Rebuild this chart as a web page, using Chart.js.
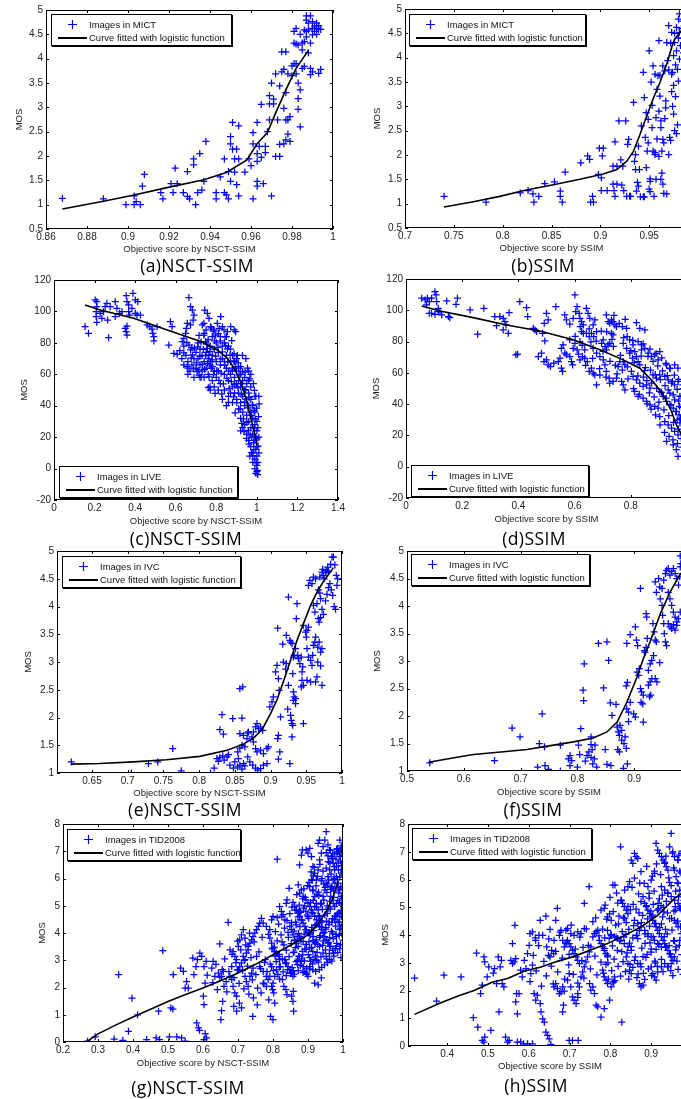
<!DOCTYPE html>
<html>
<head>
<meta charset="utf-8">
<script src="https://cdn.jsdelivr.net/npm/chart.js@4.4.1/dist/chart.umd.min.js"></script>
<style>
html,body{margin:0;padding:0;background:#fff;overflow:hidden;width:681px;height:1099px;}
canvas{position:absolute;}
.cap{position:absolute;width:220px;text-align:center;font-family:"Open Sans",sans-serif;font-size:17.5px;letter-spacing:0.4px;line-height:20px;color:#000;}
.lg{position:absolute;border:1px solid #000;box-shadow:1px 1px 0 #000;background:#fff;font-family:"Liberation Sans",Arial,sans-serif;font-size:9.5px;color:#111;}
.lg span{position:absolute;white-space:nowrap;line-height:12px;}
.lg svg{position:absolute;}
.lg .ln{position:absolute;height:1.5px;background:#000;}
</style>
</head>
<body>
<script>
// ---------------- data ----------------
const xTitleNsct = 'Objective score by NSCT-SSIM';
const xTitleSsim = 'Objective score by SSIM';
const yTitle = 'MOS';
const fitLabel = 'Curve fitted with logistic function';
const legendLabels = ['Images in MICT','Images in MICT','Images in LIVE','Images in LIVE','Images in IVC','Images in IVC','Images in TID2008','Images in TID2008'];
const captions = ['(a)NSCT-SSIM','(b)SSIM','(c)NSCT-SSIM','(d)SSIM','(e)NSCT-SSIM','(f)SSIM','(g)NSCT-SSIM','(h)SSIM'];

const xTicksA = [0.86,0.88,0.9,0.92,0.94,0.96,0.98,1];
const xLabelsA = ['0.86','0.88','0.9','0.92','0.94','0.96','0.98','1'];
const xTicksB = [0.7,0.75,0.8,0.85,0.9,0.95,1];
const xLabelsB = ['0.7','0.75','0.8','0.85','0.9','0.95','1'];
const xTicksC = [0,0.2,0.4,0.6,0.8,1,1.2,1.4];
const xLabelsC = ['0','0.2','0.4','0.6','0.8','1','1.2','1.4'];
const xTicksD = [0,0.2,0.4,0.6,0.8,1];
const xLabelsD = ['0','0.2','0.4','0.6','0.8','1'];
const xTicksE = [0.65,0.7,0.75,0.8,0.85,0.9,0.95,1];
const xLabelsE = ['0.65','0.7','0.75','0.8','0.85','0.9','0.95','1'];
const xTicksF = [0.5,0.6,0.7,0.8,0.9,1];
const xLabelsF = ['0.5','0.6','0.7','0.8','0.9','1'];
const xTicksG = [0.2,0.3,0.4,0.5,0.6,0.7,0.8,0.9,1];
const xLabelsG = ['0.2','0.3','0.4','0.5','0.6','0.7','0.8','0.9','1'];
const xTicksH = [0.4,0.5,0.6,0.7,0.8,0.9,1];
const xLabelsH = ['0.4','0.5','0.6','0.7','0.8','0.9','1'];
const yTicksMict = [0.5,1,1.5,2,2.5,3,3.5,4,4.5,5];
const yLabelsMict = ['0.5','1','1.5','2','2.5','3','3.5','4','4.5','5'];
const yTicksLive = [-20,0,20,40,60,80,100,120];
const yLabelsLive = ['-20','0','20','40','60','80','100','120'];
const yTicksIvc = [1,1.5,2,2.5,3,3.5,4,4.5,5];
const yLabelsIvc = ['1','1.5','2','2.5','3','3.5','4','4.5','5'];
const yTicksTid = [0,1,2,3,4,5,6,7,8];
const yLabelsTid = ['0','1','2','3','4','5','6','7','8'];

const micNsct = [[0.868,1.13],[0.888,1.12],[0.899,1.0],[0.903,1.18],[0.903,1.0],[0.904,1.06],[0.906,1.0],[0.907,1.38],[0.908,1.62],[0.916,1.25],[0.917,1.12],[0.921,1.43],[0.922,1.25],[0.923,1.75],[0.924,1.43],[0.927,1.25],[0.929,1.68],[0.929,1.17],[0.930,1.12],[0.932,1.82],[0.932,1.94],[0.935,2.05],[0.933,1.0],[0.934,1.25],[0.936,1.3],[0.938,2.3],[0.937,1.48],[0.943,1.25],[0.943,1.12],[0.945,1.57],[0.947,1.25],[0.948,1.2],[0.947,1.94],[0.949,1.12],[0.949,1.68],[0.950,1.48],[0.950,2.25],[0.950,2.4],[0.951,2.69],[0.951,2.14],[0.952,1.94],[0.952,1.67],[0.953,1.41],[0.953,2.14],[0.954,1.94],[0.954,2.62],[0.954,1.18],[0.957,1.67],[0.959,1.94],[0.960,1.8],[0.961,2.48],[0.961,1.12],[0.961,2.25],[0.963,2.69],[0.963,1.38],[0.963,2.05],[0.963,1.48],[0.963,1.89],[0.964,2.2],[0.965,3.06],[0.965,1.97],[0.966,1.43],[0.967,2.2],[0.967,2.07],[0.968,2.5],[0.969,2.74],[0.969,3.07],[0.969,3.24],[0.970,3.5],[0.970,1.18],[0.971,3.07],[0.971,3.17],[0.972,3.69],[0.972,1.99],[0.973,2.74],[0.974,1.99],[0.974,2.24],[0.974,3.44],[0.975,3.73],[0.976,3.78],[0.975,4.14],[0.976,2.25],[0.976,2.98],[0.977,4.14],[0.977,2.74],[0.977,3.3],[0.977,2.33],[0.978,3.69],[0.978,2.45],[0.978,2.74],[0.979,2.81],[0.979,2.3],[0.980,3.85],[0.980,3.65],[0.981,4.32],[0.981,4.56],[0.981,3.9],[0.982,3.69],[0.982,4.62],[0.982,4.3],[0.982,3.9],[0.983,2.96],[0.983,3.5],[0.983,3.18],[0.983,4.28],[0.984,4.5],[0.984,2.6],[0.984,3.36],[0.985,4.18],[0.985,4.32],[0.985,3.8],[0.986,4.59],[0.986,4.35],[0.986,3.84],[0.987,4.79],[0.987,4.56],[0.987,4.45],[0.987,4.88],[0.988,4.73],[0.988,4.12],[0.988,4.59],[0.989,4.32],[0.989,3.8],[0.989,3.67],[0.989,4.88],[0.990,4.76],[0.990,4.62],[0.990,4.49],[0.990,3.73],[0.991,4.67],[0.991,4.56],[0.992,4.62],[0.992,4.73],[0.993,4.6],[0.994,4.6],[0.993,3.7],[0.994,3.78],[0.992,4.5],[0.993,4.68]];
const micNsctFit = [[0.868,0.91],[0.888,1.07],[0.903,1.2],[0.919,1.35],[0.937,1.51],[0.948,1.66],[0.958,1.92],[0.963,2.25],[0.968,2.48],[0.972,2.88],[0.977,3.36],[0.982,3.8],[0.988,4.17]];

const micSsim = [[0.740,1.15],[0.783,1.03],[0.818,1.22],[0.826,1.27],[0.831,1.2],[0.832,1.03],[0.837,1.15],[0.843,1.41],[0.853,1.45],[0.859,1.26],[0.859,1.15],[0.861,1.03],[0.864,1.65],[0.880,1.84],[0.887,1.98],[0.889,1.91],[0.890,1.03],[0.892,1.15],[0.893,1.03],[0.898,1.6],[0.899,2.14],[0.901,1.53],[0.902,1.98],[0.903,2.14],[0.901,1.27],[0.907,1.27],[0.913,1.77],[0.913,1.4],[0.914,1.27],[0.915,1.15],[0.915,2.27],[0.917,1.77],[0.917,1.4],[0.919,2.7],[0.926,2.7],[0.921,1.9],[0.923,1.77],[0.927,1.15],[0.930,1.15],[0.931,1.15],[0.929,2.32],[0.928,2.22],[0.934,3.08],[0.935,1.87],[0.936,2.01],[0.936,1.7],[0.937,1.26],[0.938,1.44],[0.939,1.36],[0.939,2.18],[0.940,1.7],[0.942,2.6],[0.944,3.7],[0.945,3.18],[0.945,1.14],[0.946,2.36],[0.947,2.87],[0.948,2.08],[0.947,1.74],[0.949,2.73],[0.949,2.25],[0.950,4.14],[0.951,1.46],[0.951,1.51],[0.952,3.5],[0.953,3.02],[0.953,2.56],[0.954,3.83],[0.954,2.08],[0.956,3.66],[0.956,2.01],[0.957,2.77],[0.958,2.33],[0.958,3.35],[0.959,3.63],[0.960,4.35],[0.961,3.21],[0.961,3.64],[0.962,2.56],[0.963,2.08],[0.963,1.63],[0.964,2.32],[0.964,3.83],[0.965,1.21],[0.966,3.73],[0.967,3.11],[0.967,2.97],[0.968,4.31],[0.969,3.94],[0.970,2.01],[0.971,2.36],[0.973,3.66],[0.973,3.3],[0.975,2.84],[0.975,3.43],[0.976,2.5],[0.970,4.66],[0.973,4.52],[0.975,4.04],[0.976,4.31],[0.978,4.62],[0.978,4.14],[0.979,3.76],[0.980,4.79],[0.980,3.52],[0.981,4.52],[0.981,4.9],[0.981,3.97],[0.983,4.6],[0.984,4.4],[0.984,4.75],[0.985,4.1],[0.986,4.55],[0.957,1.5],[0.962,1.5],[0.964,1.4],[0.950,1.3],[0.951,1.25],[0.944,1.14],[0.941,1.14],[0.955,1.15],[0.968,1.2],[0.922,1.38],[0.924,1.27],[0.956,2.05],[0.960,1.97],[0.965,2.25],[0.972,2.3],[0.962,2.7],[0.966,2.75],[0.960,2.9],[0.974,3.0],[0.977,3.2],[0.979,2.62],[0.978,2.44],[0.977,3.85],[0.974,3.7],[0.970,3.75],[0.982,4.25],[0.980,4.4],[0.976,4.5],[0.972,4.3]];
const micSsimFit = [[0.740,0.93],[0.770,1.04],[0.797,1.15],[0.824,1.28],[0.852,1.39],[0.879,1.5],[0.903,1.61],[0.917,1.7],[0.927,1.87],[0.934,2.08],[0.940,2.39],[0.947,2.77],[0.954,3.15],[0.961,3.49],[0.968,3.87],[0.973,4.21],[0.976,4.38],[0.985,4.6]];

const liveNsct = [[0.153,90.3],[0.170,86.1],[0.203,107.3],[0.211,106.2],[0.211,103],[0.208,99.8],[0.208,96.7],[0.211,93.1],[0.228,98.8],[0.236,95.6],[0.244,99.8],[0.252,103],[0.261,105.2],[0.269,83.3],[0.277,103],[0.264,94.5],[0.302,106.2],[0.310,102],[0.302,96.7],[0.323,98.8],[0.335,99.8],[0.356,110],[0.360,106.2],[0.368,104.1],[0.368,99.8],[0.389,111.5],[0.401,107.3],[0.384,102],[0.373,97.7],[0.351,89.2],[0.356,87.1],[0.360,85],[0.360,90.7],[0.413,106.2],[0.401,98.8],[0.409,97.7],[0.426,97.7],[0.459,91.4],[0.472,90.3],[0.483,88.8],[0.492,83.9],[0.508,90.3],[0.487,86.1],[0.492,81.2],[0.566,78.6],[0.574,93.5],[0.582,90.3],[0.591,73.3],[0.607,72.7],[0.632,80.8],[0.640,82.9],[0.649,86.1],[0.653,89.2],[0.657,92.4],[0.665,108.8],[0.673,103],[0.682,100.9],[0.690,97.7],[0.686,94.5],[0.673,91.4],[0.657,64.8],[0.665,78.6],[0.673,75.5],[0.682,72.3],[0.706,61.7],[0.715,59.5],[0.731,91.4],[0.739,92.4],[0.743,100.9],[0.756,98.8],[0.764,95.6],[0.772,90.3],[0.739,85],[0.748,80.8],[0.756,76.5],[0.764,72.3],[0.772,68],[0.781,64.8],[0.769,52.1],[0.789,88.2],[0.797,85],[0.805,92.4],[0.814,89.2],[0.822,96.7],[0.830,90.3],[0.838,88.2],[0.855,87.1],[0.871,90.3],[0.888,88.2],[0.896,87.1],
[0.62,75],[0.63,70],[0.64,66],[0.65,72],[0.66,68],[0.67,62],[0.68,66],[0.69,70],[0.70,74],[0.70,64],[0.69,58],[0.68,77],[0.66,60],[0.64,78],
[0.71,80],[0.71,70],[0.72,66],[0.72,76],[0.73,62],[0.73,72],[0.74,68],[0.74,58],[0.75,74],[0.75,64],[0.76,70],[0.76,60],[0.77,78],[0.77,66],[0.78,72],[0.78,56],[0.79,62],[0.79,76],[0.80,68],[0.80,58],[0.80,80],[0.78,84],[0.76,82],[0.74,86],[0.79,52],[0.77,50],
[0.81,74],[0.81,62],[0.82,66],[0.82,54],[0.83,78],[0.83,70],[0.84,60],[0.84,50],[0.85,72],[0.85,64],[0.86,56],[0.86,46],[0.87,68],[0.87,60],[0.88,52],[0.88,42],[0.82,84],[0.84,80],[0.86,78],[0.85,84],[0.87,76],[0.88,72],[0.83,44],[0.85,40],[0.87,48],[0.81,50],[0.84,68],[0.86,62],[0.88,64],
[0.89,58],[0.89,48],[0.90,62],[0.90,54],[0.90,44],[0.91,56],[0.91,38],[0.91,48],[0.92,52],[0.92,42],[0.92,32],[0.93,46],[0.93,36],[0.93,56],[0.94,40],[0.94,28],[0.94,50],[0.95,44],[0.95,34],[0.95,22],[0.89,68],[0.90,70],[0.91,64],[0.92,60],[0.93,62],[0.94,58],[0.95,54],[0.93,26],[0.92,24],
[0.96,40],[0.96,30],[0.96,18],[0.96,48],[0.97,36],[0.97,26],[0.97,14],[0.97,44],[0.98,32],[0.98,22],[0.98,10],[0.98,40],[0.99,28],[0.99,18],[0.99,6],[0.99,36],[1.00,24],[1.00,14],[1.00,2],[1.00,-2],[1.00,30],[1.01,20],[1.01,10],[1.01,46],[0.99,46],[0.98,4],[0.99,0],[1.00,8],[0.97,52],[0.96,56],[0.995,-3],[1.005,4],[0.985,12],[0.995,20],[1.005,26],[0.975,20],[0.965,8],
[0.888,73],[0.904,72],[0.929,72],[0.946,70],[0.954,64],[0.96,62],[0.97,60],[0.983,54],[0.995,46],[0.66,64],[0.72,58]];
const liveNsctDense = [[0.702,67.2],[0.708,77.5],[0.714,62.8],[0.719,71.4],[0.725,80.6],[0.731,66.3],[0.736,75.9],[0.742,63.1],[0.747,71.8],[0.753,79.2],[0.758,66.9],[0.764,58.4],[0.769,74.6],[0.775,63.7],[0.78,69.2],[0.786,59.8],[0.791,81.3],[0.797,71.6],[0.802,62.4],[0.808,77.1],[0.813,56.2],[0.819,69.8],[0.824,60.7],[0.83,74.3],[0.835,53.9],[0.841,65.6],[0.846,78.2],[0.852,57.4],[0.857,67.9],[0.863,50.8],[0.868,72.1],[0.874,55.3],[0.879,62.6],[0.885,45.7],[0.89,53.2],[0.896,64.8],[0.901,41.9],[0.907,51.4],[0.912,59.6],[0.918,37.8],[0.923,47.3],[0.929,54.1],[0.934,31.6],[0.94,42.5],[0.945,50.2],[0.951,29.4],[0.956,38.7],[0.962,45.1],[0.967,21.3],[0.973,33.8],[0.978,40.6],[0.984,16.5],[0.989,25.7],[0.995,12.2],[1.0,18.9],[1.003,-1.2],[0.997,3.6],[1.006,14.3],[0.992,31.4],[0.986,37.1],[0.726,58.2],[0.761,51.5],[0.794,47.8],[0.827,47.6],[0.86,42.1],[0.893,35.4],[0.926,28.7],[0.958,24.3],[0.98,8.2],[1.004,-3.8],[0.715,84.7],[0.75,88.3],[0.785,87.4],[0.82,81.2],[0.855,76.1],[0.887,68.5],[0.92,64.9],[0.942,61.3],[0.965,57.1],[0.988,49.8],[0.908,67.3],[0.876,81.5],[0.843,83.8],[0.81,85.9],[0.775,89.6],[0.64,73.6],[0.655,80.2],[0.676,70.3],[0.692,76.7],[0.688,63.4],[0.973,10.1],[0.961,15.6],[0.949,19.2],[0.937,23.5],[0.999,38.4],[1.008,33.1],[1.011,41.2]];
const liveNsctFit = [[0.153,104.1],[0.228,100.9],[0.393,95.6],[0.558,88.2],[0.723,80.8],[0.805,75.5],[0.855,70.2],[0.888,63.8],[0.921,55.3],[0.946,44.7],[0.970,32],[0.987,23.5],[1.0,15]];

const liveSsim = [[0.056,107.7],[0.068,106.6],[0.076,107.7],[0.083,105.5],[0.091,107.7],[0.103,111.9],[0.107,109.8],[0.109,105.5],[0.115,101.3],[0.115,99.1],[0.083,98.1],[0.103,97.4],[0.121,99.1],[0.127,97],[0.145,106],[0.151,96],[0.156,95.3],[0.178,103.8],[0.183,107.7],[0.073,103.4],[0.091,98.1],[0.228,100.2],[0.255,84.7],[0.277,101.3],[0.316,96],[0.334,96],[0.346,94.9],[0.356,90.6],[0.346,87.4],[0.364,85.3],[0.322,90.2],[0.352,92.8],[0.367,98.5],[0.391,71.5],[0.397,71.9],[0.405,105.5],[0.429,101.7],[0.433,96],[0.453,88.5],[0.459,87.4],[0.465,86.4],[0.471,70.4],[0.486,85.3],[0.492,91.7],[0.494,80.4],[0.500,98.1],[0.506,93.8],[0.482,72.6],[0.491,67.2],[0.500,68.3],[0.506,65.1],[0.514,64],[0.533,102.3],[0.526,66.2],[0.542,67.2],[0.548,69.4],[0.553,63],[0.557,60.9],[0.553,75.7],[0.559,77.9],[0.565,72.6],[0.571,71.5],[0.583,70.4],[0.589,67.2],[0.593,65.1],[0.565,97],[0.571,93.8],[0.583,91.1],[0.595,94.9],[0.601,109.8],[0.609,102.3],[0.616,98.1],[0.604,99.1],[0.619,94.9],[0.625,92.8],[0.583,81.1],[0.595,75.7],[0.601,78.9],[0.609,74.7],[0.619,80],[0.625,86.4],[0.631,85.3],[0.636,74.7],[0.619,68.3],[0.628,70.4],[0.636,69.4],[0.645,67.2],[0.642,101.3],[0.648,98.1],[0.654,94.9],[0.666,90.6],[0.672,93.8],[0.678,86.4],[0.631,90.6],[0.642,85.3],[0.652,83.2],[0.660,85.3],[0.668,83.2],[0.652,60.9],[0.660,63],[0.666,59.8],[0.672,58.7],[0.678,52.3],[0.666,75.7],[0.678,72.6],[0.690,70.4],[0.702,68.3],[0.708,65.1],[0.713,60.9],[0.696,78.9],[0.702,81.1],[0.708,76.8],[0.713,74.7],[0.719,77.9],[0.725,78.9],[0.713,97],[0.719,92.8],[0.725,91.7],[0.731,93.8],[0.737,92.8],[0.743,90.6],[0.749,89.6],[0.759,91.7],[0.770,89.6],[0.785,88.5],[0.731,85.3],[0.737,84.3],[0.723,56.6],[0.725,53.4],[0.737,54.5],[0.749,56.6],[0.755,64],[0.761,67.2],[0.773,67.2],[0.779,65.1],[0.767,54.5],[0.773,52.3],[0.779,49.1],[0.785,75.7],[0.796,72.6],[0.806,69.4],[0.814,73.6],[0.820,70.4],[0.826,67.2],[0.832,65.1],[0.838,74.7],[0.802,60.9],[0.808,57.7],[0.820,55.5],[0.832,53.4],[0.844,51.3],[0.856,52.3],[0.868,50.2],[0.814,48.1],[0.826,44.9],[0.844,43.8],[0.856,41.7],[0.868,39.6],[0.885,38.5],[0.897,37.4],[0.773,78.9],[0.787,83.2],[0.796,81.1],[0.808,77.9],[0.826,80],[0.838,77.9],[0.850,75.7],[0.862,72.6],[0.873,70.4],[0.885,71.5],[0.897,68.3],[0.903,73.6],[0.879,58.7],[0.891,56.6],[0.903,58.7],[0.921,57.7],[0.933,55.5],[0.945,53.4],[0.956,52.3],[0.968,54.5],[0.903,48.1],[0.915,44.9],[0.927,41.7],[0.939,39.6],[0.951,37.4],[0.962,35.3],[0.972,33.2],[0.903,32.1],[0.921,28.9],[0.933,26.8],[0.945,24.7],[0.956,22.6],[0.968,20.4],[0.927,16.2],[0.951,14],[0.962,10.9],[0.968,6.6],[0.956,65.1],[0.968,63],[0.927,65.1],[0.939,63],[0.933,49.1],[0.951,46],[0.975,45],[0.98,38],[0.975,28],[0.98,18],[0.985,30],[0.99,40],[0.99,10],[0.985,50],[0.97,42],[0.965,30],[0.832,88.5],[0.85,87.4]];
const liveSsimDense = [[0.852,63.4],[0.857,55.1],[0.861,70.6],[0.866,47.2],[0.87,61.8],[0.874,53.5],[0.879,67.3],[0.883,44.6],[0.887,58.9],[0.892,50.1],[0.896,64.4],[0.9,41.3],[0.905,55.7],[0.909,47.6],[0.913,61.2],[0.918,36.4],[0.922,51.9],[0.926,43.8],[0.93,58.3],[0.935,32.7],[0.939,47.1],[0.943,39.5],[0.948,54.6],[0.952,28.3],[0.956,42.8],[0.96,35.2],[0.965,49.4],[0.969,24.1],[0.973,38.6],[0.977,30.8],[0.981,45.3],[0.986,21.4],[0.99,33.5],[0.994,27.9],[0.998,16.8],[0.858,40.2],[0.872,36.8],[0.888,33.1],[0.904,26.7],[0.92,21.9],[0.936,19.4],[0.95,17.2],[0.966,14.8],[0.982,12.5],[0.995,8.1],[0.91,69.5],[0.925,66.1],[0.94,62.7],[0.955,58.6],[0.97,55.8],[0.985,52.3],[0.868,75.2],[0.89,72.4],[0.602,83.4],[0.614,71.9],[0.627,77.6],[0.639,64.8],[0.652,88.1],[0.664,69.2],[0.677,80.3],[0.689,62.7],[0.701,73.8],[0.714,86.2],[0.726,67.4],[0.738,76.9],[0.751,59.3],[0.763,71.1],[0.775,82.6],[0.788,63.9],[0.8,74.2],[0.812,66.5],[0.825,58.1],[0.837,70.7],[0.849,61.4],[0.62,89.5],[0.658,79.8],[0.695,86.7],[0.733,81.4],[0.77,61.8],[0.807,80.8],[0.844,78.6],[0.79,56.2],[0.81,49.9],[0.83,46.3],[0.845,57.3],[0.712,57.2],[0.745,64.9],[0.69,58.6],[0.82,92.1],[0.78,94.2],[0.74,96.8]];
const liveSsimFit = [[0.056,102.8],[0.121,99.6],[0.239,95.3],[0.358,90.6],[0.476,86.8],[0.595,81.1],[0.69,74.7],[0.773,68.3],[0.832,63],[0.879,54.5],[0.915,46],[0.945,35.3],[0.962,26.8],[0.978,21.5],[0.995,12]];

const ivcNsct = [[0.621,1.2],[0.705,1.0],[0.729,1.17],[0.742,1.2],[0.763,1.44],[0.775,1.04],[0.816,1.0],[0.821,1.09],[0.829,1.78],[0.832,2.05],[0.834,1.7],[0.825,1.26],[0.827,1.21],[0.829,1.28],[0.833,1.31],[0.835,1.23],[0.839,1.29],[0.841,1.33],[0.847,1.98],[0.843,1.14],[0.848,1.09],[0.850,1.2],[0.854,1.11],[0.855,1.26],[0.857,1.14],[0.86,1.07],[0.862,1.17],[0.864,1.13],[0.857,2.52],[0.861,2.55],[0.857,1.71],[0.86,1.99],[0.854,1.38],[0.857,1.45],[0.86,1.5],[0.864,1.47],[0.867,1.62],[0.869,1.74],[0.862,1.68],[0.868,1.72],[0.876,1.74],[0.879,1.83],[0.881,1.89],[0.883,1.8],[0.886,1.83],[0.889,1.77],[0.874,1.65],[0.876,1.56],[0.879,1.44],[0.881,1.38],[0.886,1.41],[0.89,1.35],[0.895,1.44],[0.897,1.47],[0.868,1.29],[0.871,1.2],[0.875,1.14],[0.879,1.09],[0.882,1.05],[0.886,1.08],[0.89,1.14],[0.895,1.17],[0.899,2.19],[0.902,2.28],[0.904,2.37],[0.907,2.82],[0.909,2.94],[0.91,3.61],[0.911,2.7],[0.912,2.49],[0.911,1.68],[0.91,1.62],[0.914,2.01],[0.913,1.38],[0.911,1.25],[0.917,3.32],[0.918,3.0],[0.921,2.87],[0.922,3.48],[0.922,2.97],[0.924,2.15],[0.925,4.17],[0.925,2.58],[0.927,3.39],[0.928,3.36],[0.93,3.33],[0.928,2.04],[0.929,1.95],[0.93,1.89],[0.931,1.86],[0.927,1.17],[0.93,1.65],[0.932,2.46],[0.933,2.37],[0.932,2.31],[0.935,2.34],[0.935,2.25],[0.931,2.79],[0.932,3.09],[0.933,3.12],[0.935,3.24],[0.937,4.05],[0.936,3.78],[0.938,3.12],[0.939,3.06],[0.941,2.97],[0.943,3.09],[0.944,2.82],[0.945,2.91],[0.944,2.67],[0.946,2.58],[0.943,2.55],[0.946,1.89],[0.946,3.66],[0.949,3.54],[0.95,3.45],[0.951,3.57],[0.953,3.63],[0.951,3.24],[0.953,3.09],[0.956,3.03],[0.958,2.94],[0.959,3.12],[0.951,2.67],[0.956,2.64],[0.953,4.38],
[0.955,4.47],[0.958,4.41],[0.960,4.53],[0.963,4.50],[0.967,4.30],[0.969,4.24],[0.970,4.14],[0.969,4.53],[0.972,4.62],[0.973,4.67],[0.974,4.56],[0.975,4.50],[0.977,4.61],[0.978,4.65],[0.980,4.71],[0.981,4.63],[0.984,4.76],[0.986,4.89],[0.988,4.89],[0.990,4.75],[0.992,4.56],[0.993,4.38],[0.994,4.5],[0.960,4.02],[0.962,3.9],[0.965,4.05],[0.967,3.78],[0.968,3.72],[0.970,3.80],[0.972,3.95],[0.974,3.86],[0.977,4.10],[0.979,4.22],[0.981,4.34],[0.983,4.41],[0.985,4.30],[0.987,4.2],[0.989,4.0],[0.991,3.95],[0.963,3.45],[0.966,3.27],[0.968,3.36],[0.970,3.18],[0.972,3.24],[0.960,3.3],[0.962,3.36],[0.966,3.0],[0.970,2.93],[0.972,2.58],[0.963,2.64],[0.965,2.73]];
const ivcNsctFit = [[0.621,1.16],[0.661,1.17],[0.708,1.2],[0.754,1.24],[0.801,1.3],[0.839,1.41],[0.862,1.52],[0.876,1.63],[0.888,1.78],[0.9,2.07],[0.909,2.32],[0.918,2.65],[0.928,3.03],[0.937,3.39],[0.946,3.69],[0.956,4.02],[0.965,4.26],[0.974,4.45],[0.988,4.7]];

const ivcSsim = [[0.540,1.15],[0.654,1.19],[0.685,1.78],[0.699,1.62],[0.730,1.07],[0.733,1.5],[0.738,2.04],[0.742,1.44],[0.743,1.1],[0.749,1.03],[0.770,1.47],[0.770,1.0],[0.784,1.22],[0.787,1.28],[0.790,1.19],[0.787,1.1],[0.800,1.07],[0.802,1.47],[0.804,1.3],[0.806,1.77],[0.811,2.28],[0.810,2.47],[0.812,2.95],[0.814,1.18],[0.817,1.28],[0.82,1.35],[0.824,1.25],[0.827,1.13],[0.83,1.22],[0.831,1.47],[0.824,1.62],[0.824,1.48],[0.826,1.39],[0.834,1.07],[0.837,3.32],[0.846,2.51],[0.849,1.39],[0.852,1.12],[0.852,3.35],[0.855,3.01],[0.858,2.24],[0.859,1.1],[0.861,2.01],[0.868,2.21],[0.870,1.8],[0.872,1.71],[0.874,1.65],[0.878,1.74],[0.875,1.83],[0.871,1.39],[0.874,1.35],[0.878,1.56],[0.884,1.62],[0.882,1.5],[0.886,1.41],[0.881,1.05],[0.888,1.13],[0.887,3.32],[0.886,2.55],[0.888,2.61],[0.887,2.13],[0.89,2.07],[0.893,2.25],[0.89,1.9],[0.893,3.48],[0.899,2.04],[0.902,1.98],[0.902,3.62],[0.904,3.38],[0.906,3.28],[0.905,2.8],[0.908,2.74],[0.909,2.86],[0.911,2.5],[0.913,2.44],[0.916,2.38],[0.912,2.25],[0.915,2.22],[0.911,4.32],[0.916,1.89],[0.918,3.19],[0.919,3.16],[0.921,3.25],[0.921,3.86],[0.922,3.8],[0.923,3.41],[0.925,2.83],[0.928,2.95],[0.931,3.01],[0.934,3.1],[0.925,2.56],[0.928,2.62],[0.931,2.68],[0.929,2.38],[0.927,2.35],[0.933,3.68],[0.935,3.53],[0.937,3.38],[0.939,3.35],[0.937,2.68],[0.94,2.62],[0.943,4.5],[0.945,4.35],[0.937,4.44],[0.939,4.25],[0.946,4.13],[0.949,4.01],[0.95,3.83],[0.952,3.68],[0.953,3.5],[0.945,2.97],[0.955,3.35],[0.957,3.28],[0.949,4.32],[0.952,4.47],[0.955,4.59],[0.957,4.65],[0.96,4.68],[0.96,4.25],[0.963,4.13],[0.966,4.01],[0.969,3.89],[0.972,3.8],[0.975,3.71],[0.978,3.77],[0.981,3.89],[0.963,4.56],[0.966,4.63],[0.969,4.68],[0.972,4.59],[0.975,4.5],[0.978,4.38],[0.98,4.53],[0.981,4.71],[0.982,4.77],[0.981,4.91],[0.96,3.68],[0.963,3.62],[0.966,3.59],[0.969,3.66],[0.972,3.56],[0.975,3.65]];
const ivcSsimFit = [[0.538,1.16],[0.588,1.25],[0.617,1.3],[0.67,1.35],[0.711,1.39],[0.758,1.47],[0.793,1.53],[0.828,1.6],[0.852,1.71],[0.87,1.89],[0.887,2.25],[0.905,2.71],[0.916,3.04],[0.928,3.35],[0.946,3.86],[0.963,4.25],[0.978,4.53],[0.99,4.7]];

const tidNsct = [[0.27,0.03],[0.292,0.19],[0.346,0.11],[0.359,2.47],[0.371,0.06],[0.387,0.39],[0.397,1.61],[0.413,1.0],[0.439,0.09],[0.466,0.15],[0.473,1.13],[0.476,0.09],[0.485,3.35],[0.504,0.19],[0.508,1.25],[0.514,1.21],[0.515,2.47],[0.525,0.19],[0.539,0.15],[0.549,0.03],[0.536,2.71],[0.544,2.59],[0.549,1.98],[0.553,2.22],[0.558,1.98],[0.571,3.08],[0.574,2.47],[0.58,2.77],[0.584,3.02],[0.582,0.7],[0.587,0.52],[0.59,0.43],[0.591,3.26],[0.596,3.14],[0.603,2.77],[0.609,2.96],[0.606,0.31],[0.603,0.09],[0.61,0.15],[0.603,1.37],[0.601,1.68],[0.606,2.16],[0.625,2.71],[0.629,2.96],[0.634,2.41],[0.644,2.53],[0.648,2.38],[0.653,2.41],[0.658,2.59],[0.648,3.6],[0.656,1.49],[0.653,1.15],[0.651,0.82],[0.66,2.04],[0.666,2.22],[0.672,4.39],[0.677,3.38],[0.682,2.77],[0.677,2.41],[0.682,2.29],[0.686,2.04],[0.691,1.8],[0.696,1.68],[0.698,2.65],[0.686,3.32],[0.691,3.14],[0.696,3.02],[0.701,3.51],[0.705,3.75],[0.71,3.93],[0.715,4.12],[0.72,3.81],[0.688,1.31],[0.696,1.13],[0.704,1.43],[0.71,1.25],[0.701,2.65],[0.705,2.77],[0.71,2.9],[0.715,3.14],[0.72,3.02],[0.724,3.26],[0.729,3.38],[0.72,2.41],[0.724,2.22],[0.729,2.04],[0.734,2.41],[0.739,2.53],[0.743,2.71],[0.729,3.51],[0.734,3.63],[0.739,3.75],[0.743,3.87],[0.748,4.0],[0.753,4.12],[0.758,4.24],[0.762,4.36],[0.742,0.94],[0.753,3.14],[0.762,2.77],[0.772,2.59],[0.781,2.41],[0.786,2.29],[0.772,2.16],[0.781,2.04],[0.767,4.54],[0.772,4.36],[0.781,4.24],[0.791,4.12],[0.796,4.48],[0.8,4.61],[0.791,3.81],[0.796,3.63],[0.8,3.45],[0.805,3.32],[0.81,3.26],[0.815,3.14],[0.819,3.02],[0.793,0.94],[0.8,0.82],[0.805,1.43],[0.802,1.8],[0.799,1.92],[0.796,2.04],[0.8,2.16],[0.791,2.41],[0.796,2.77],[0.805,2.41],[0.81,2.65],[0.818,2.77],[0.812,6.71],[0.819,4.97],[0.824,4.79],[0.829,4.67],[0.834,4.48],[0.838,5.09],[0.84,5.22],[0.827,2.29],[0.831,2.04],[0.837,1.92],[0.84,1.74],[0.834,3.02],[0.838,2.9],[0.843,2.77],[0.848,2.65],[0.853,2.53],[0.857,2.41],[0.846,5.64],[0.848,4.24],[0.853,4.12],[0.857,3.93],[0.862,3.75],[0.867,3.63],[0.872,3.51],[0.853,1.68],[0.857,1.49],[0.859,1.13],[0.858,1.86],[0.872,5.77],[0.876,6.5],[0.881,6.86],[0.884,7.05],[0.862,4.97],[0.867,4.85],[0.872,4.73],[0.876,4.61],[0.881,4.48],[0.886,4.36],[0.891,4.24],[0.895,4.12],[0.9,4.0],[0.875,3.14],[0.881,2.96],[0.886,2.77],[0.891,2.59],[0.895,2.53],[0.9,2.41],[0.905,2.77],[0.914,2.65],[0.919,2.16],[0.929,2.1],[0.938,2.35],[0.876,5.46],[0.886,5.34],[0.894,5.22],[0.9,5.09],[0.905,4.97],[0.91,4.85],[0.914,4.73],[0.919,4.61],[0.924,4.48],[0.929,4.36],[0.933,4.24],[0.938,4.12],[0.943,4.0],[0.948,3.87],[0.952,3.75],[0.957,3.63],[0.962,3.51],[0.895,7.05],[0.9,6.93],[0.905,7.11],[0.91,6.8],[0.914,6.44],[0.919,6.19],[0.924,5.95],[0.929,6.32],[0.933,6.68],[0.938,6.93],[0.943,7.17],[0.948,7.41],[0.952,7.72],[0.957,7.23],[0.962,7.05],[0.967,6.8],[0.972,6.56],[0.976,6.32],[0.981,6.07],[0.986,5.83],[0.991,5.58],[0.995,5.34],[0.998,5.09],[0.929,7.29],[0.933,7.41],[0.905,5.7],[0.91,5.95],[0.914,5.58],[0.919,5.34],[0.924,5.09],[0.929,4.85],[0.933,4.61],[0.938,5.09],[0.943,5.34],[0.948,5.58],[0.952,5.83],[0.957,6.07],[0.962,6.32],[0.967,5.7],[0.972,5.09],[0.976,4.48],[0.981,3.87],[0.986,4.73],[0.991,4.12],[0.995,4.61],[0.972,5.95],[0.981,6.44],[0.991,6.8],[0.995,6.32],[0.914,3.87],[0.924,3.75],[0.933,3.51],[0.943,3.26],[0.952,3.14],[0.962,3.02],[0.972,3.26],[0.981,3.51],[0.876,3.87],[0.886,3.69],[0.895,3.57],[0.905,3.45],[0.914,3.32],[0.86,3.3],[0.865,4.4],[0.87,3.0],[0.875,4.8],[0.88,3.8],[0.885,3.2],[0.89,5.0],[0.895,3.4],[0.9,4.6],[0.905,3.1],[0.91,4.1],[0.915,5.2],[0.92,3.6],[0.925,3.0],[0.93,5.5],[0.935,3.9],[0.94,4.4],[0.945,5.8],[0.95,4.2],[0.955,5.0],[0.96,4.4],[0.965,5.6],[0.97,4.0],[0.975,6.0],[0.98,4.6],[0.985,5.2],[0.99,4.4],[0.995,6.2],[0.995,4.8],[1.0,5.6],[0.99,6.9],[1.0,6.6],[0.998,7.0],[0.985,7.1],[1.0,4.3],[0.991,7.41],[0.995,7.05],[0.986,6.56]];
const tidNsctDense = [[0.801,2.62],[0.804,3.48],[0.807,4.05],[0.809,2.95],[0.812,3.71],[0.814,2.48],[0.816,4.33],[0.818,3.22],[0.821,2.76],[0.823,3.93],[0.825,4.62],[0.827,3.05],[0.829,2.57],[0.831,3.56],[0.833,4.18],[0.836,2.88],[0.838,3.37],[0.84,4.45],[0.842,2.66],[0.844,3.84],[0.846,3.13],[0.848,4.71],[0.85,2.52],[0.812,4.56],[0.819,2.31],[0.834,3.02],[0.843,4.02],[0.826,3.67],[0.806,3.15],[0.838,2.44],
[0.852,3.61],[0.853,4.38],[0.855,2.73],[0.857,5.12],[0.858,3.28],[0.86,4.07],[0.861,2.49],[0.863,4.84],[0.865,3.46],[0.866,2.95],[0.868,5.41],[0.869,3.87],[0.871,4.59],[0.872,2.62],[0.874,3.15],[0.875,5.02],[0.877,4.23],[0.878,2.81],[0.88,3.69],[0.881,5.58],[0.883,4.47],[0.884,3.33],[0.886,2.55],[0.887,4.91],[0.889,3.96],[0.89,2.98],[0.892,5.31],[0.893,4.12],[0.895,3.58],[0.896,2.71],[0.898,4.66],[0.899,5.74],[0.854,4.95],[0.862,3.72],[0.87,2.84],[0.879,4.76],[0.885,5.25],[0.891,3.41],[0.897,2.49],[0.873,3.99],[0.866,4.3],[0.882,3.05],[0.858,2.6],[0.888,5.62],[0.894,4.8],
[0.901,3.21],[0.902,4.54],[0.903,5.86],[0.905,2.68],[0.906,3.93],[0.907,5.12],[0.909,6.24],[0.91,3.47],[0.911,4.76],[0.913,2.87],[0.914,5.55],[0.915,4.09],[0.917,3.02],[0.918,6.41],[0.919,4.98],[0.921,3.66],[0.922,2.59],[0.923,5.73],[0.925,4.31],[0.926,3.29],[0.927,6.08],[0.929,4.63],[0.93,2.93],[0.931,5.38],[0.933,3.84],[0.934,6.52],[0.935,4.45],[0.937,3.12],[0.938,5.91],[0.939,2.74],[0.941,4.87],[0.942,3.55],[0.943,6.27],[0.945,5.21],[0.946,4.02],[0.947,2.83],[0.949,5.67],[0.95,3.38],[0.904,4.02],[0.912,5.93],[0.916,3.72],[0.924,4.95],[0.928,3.58],[0.936,5.06],[0.944,3.71],[0.948,4.66],[0.908,2.96],[0.92,4.28],[0.932,2.66],[0.94,6.0],[0.915,6.1],[0.926,5.42],[0.903,3.68],[0.939,4.22],[0.911,4.21],[0.921,3.15],
[0.951,4.14],[0.952,6.38],[0.953,3.05],[0.954,5.49],[0.955,4.72],[0.956,2.91],[0.957,6.83],[0.958,3.66],[0.959,5.94],[0.96,4.31],[0.961,3.24],[0.962,5.17],[0.963,6.58],[0.964,4.88],[0.965,3.51],[0.966,6.16],[0.967,4.06],[0.968,2.97],[0.969,5.66],[0.97,4.53],[0.971,6.92],[0.972,3.79],[0.973,5.31],[0.974,3.15],[0.975,6.44],[0.976,4.97],[0.977,5.83],[0.978,3.43],[0.979,4.25],[0.98,6.71],[0.981,5.08],[0.982,3.62],[0.983,4.69],[0.984,5.97],[0.985,3.28],[0.986,4.41],[0.987,6.33],[0.988,5.47],[0.989,3.91],[0.99,5.12],[0.991,6.05],[0.992,4.18],[0.993,3.57],[0.994,5.71],[0.995,4.83],[0.996,6.47],[0.997,3.96],[0.998,5.28],[0.999,4.57],[1.0,6.12],[1.0,3.74],[0.999,6.85],[0.996,5.02],[0.993,6.64],[0.989,4.73],[0.986,5.66],[0.983,6.94],[0.98,3.95],[0.977,4.62],[0.974,5.54],[0.971,3.36],[0.968,4.39],[0.965,5.34],[0.962,3.83],[0.959,4.91],[0.956,5.76],[0.953,4.44],[0.997,4.26],[0.994,3.1],[0.991,3.43],[0.998,7.12],[0.995,7.2],[0.988,7.0],[0.982,7.08],[0.976,6.9],[0.97,6.74],[0.964,7.03],[0.958,6.62],[0.952,6.95],
[0.612,2.45],[0.628,2.18],[0.637,2.85],[0.641,1.92],[0.655,2.66],[0.662,3.05],[0.668,1.84],[0.674,2.58],[0.683,3.22],[0.689,2.36],[0.694,2.91],[0.703,2.15],[0.708,3.38],[0.713,2.62],[0.717,1.95],[0.722,3.56],[0.727,2.78],[0.731,1.76],[0.737,3.1],[0.741,2.28],[0.746,3.67],[0.751,2.47],[0.756,1.98],[0.76,3.31],[0.765,2.69],[0.769,3.84],[0.774,2.13],[0.778,3.02],[0.783,2.58],[0.787,3.95],[0.792,2.86],[0.797,3.42],[0.744,1.62],[0.755,1.36],[0.766,1.8],[0.788,1.55],[0.776,2.92],[0.718,3.0],[0.699,3.7],[0.733,4.0]];
const tidNsctFit = [[0.27,0.03],[0.3,0.3],[0.35,0.62],[0.4,0.92],[0.45,1.2],[0.5,1.49],[0.55,1.74],[0.6,1.98],[0.65,2.25],[0.7,2.53],[0.75,2.85],[0.8,3.2],[0.85,3.55],[0.9,3.93],[0.93,4.35],[0.95,4.75],[0.97,5.25],[0.986,5.89]];

const tidSsim = [[0.32,2.45],[0.374,1.62],[0.392,2.55],[0.434,2.49],[0.464,1.02],[0.472,3.35],[0.475,0.68],[0.482,1.89],[0.486,2.19],[0.49,3.21],[0.492,3.03],[0.486,0.2],[0.49,0.14],[0.492,0.32],[0.498,2.49],[0.502,2.85],[0.507,0.56],[0.513,2.63],[0.516,2.79],[0.521,2.25],[0.525,3.21],[0.53,2.85],[0.533,3.09],[0.527,1.23],[0.535,2.25],[0.539,2.13],[0.543,0.32],[0.548,0.14],[0.552,0.2],[0.556,3.09],[0.56,2.97],[0.564,3.03],[0.568,3.15],[0.56,3.69],[0.566,4.35],[0.568,1.59],[0.572,1.16],[0.57,1.89],[0.576,1.89],[0.572,0.14],[0.58,0.14],[0.587,0.08],[0.597,0.08],[0.609,0.08],[0.58,2.73],[0.584,2.49],[0.589,3.09],[0.593,2.79],[0.597,3.33],[0.601,3.63],[0.603,4.05],[0.609,4.11],[0.617,3.81],[0.625,3.99],[0.628,4.53],[0.634,3.99],[0.605,2.61],[0.609,2.91],[0.613,1.89],[0.617,1.65],[0.621,1.83],[0.628,1.53],[0.63,1.23],[0.634,0.98],[0.638,0.86],[0.642,0.5],[0.646,0.38],[0.65,0.26],[0.654,0.06],[0.642,4.68],[0.644,3.57],[0.648,3.27],[0.652,3.21],[0.656,3.45],[0.661,3.33],[0.662,3.81],[0.662,2.13],[0.666,2.25],[0.67,2.07],[0.675,1.89],[0.679,1.95],[0.683,2.13],[0.666,4.53],[0.67,4.96],[0.675,3.99],[0.679,4.17],[0.683,3.81],[0.685,1.47],[0.683,1.23],[0.687,3.57],[0.691,3.69],[0.695,3.81],[0.699,3.69],[0.703,3.57],[0.707,3.45],[0.711,3.33],[0.716,3.21],[0.72,3.09],[0.724,2.97],[0.691,4.17],[0.695,4.23],[0.703,4.05],[0.711,3.99],[0.72,4.11],[0.728,4.05],[0.736,4.23],[0.695,2.37],[0.699,2.61],[0.703,2.13],[0.707,1.77],[0.711,1.65],[0.716,1.53],[0.72,1.89],[0.724,2.13],[0.699,0.2],[0.707,0.2],[0.721,0.2],[0.728,2.49],[0.732,2.67],[0.736,2.85],[0.74,3.03],[0.744,3.21],[0.748,3.39],[0.752,3.57],[0.736,5.14],[0.748,5.74],[0.752,2.01],[0.757,2.13],[0.761,1.89],[0.757,3.93],[0.761,4.05],[0.765,4.11],[0.769,4.17],[0.773,3.81],[0.777,3.69],[0.781,3.57],[0.785,3.45],[0.789,3.33],[0.793,3.21],[0.765,1.47],[0.769,1.41],[0.777,1.04],[0.785,1.35],[0.798,1.65],[0.777,4.9],[0.785,4.96],[0.793,4.65],[0.802,4.53],[0.806,5.8],[0.811,5.8],[0.781,2.73],[0.785,2.49],[0.789,2.37],[0.793,2.25],[0.802,2.13],[0.806,2.31],[0.81,2.49],[0.793,4.17],[0.802,3.99],[0.81,3.93],[0.818,3.87],[0.826,3.81],[0.834,3.69],[0.843,3.57],[0.851,3.45],[0.825,7.18],[0.826,5.26],[0.83,5.14],[0.834,5.02],[0.839,4.9],[0.843,4.77],[0.828,0.86],[0.843,5.74],[0.847,5.92],[0.851,6.7],[0.855,6.58],[0.859,6.94],[0.863,6.82],[0.867,6.76],[0.839,3.21],[0.843,2.97],[0.847,2.73],[0.851,2.61],[0.859,3.09],[0.867,2.97],[0.875,2.85],[0.859,4.53],[0.867,4.41],[0.875,4.29],[0.884,4.17],[0.892,4.05],[0.9,3.93],[0.908,3.81],[0.916,3.69],[0.925,3.57],[0.871,2.25],[0.875,2.13],[0.88,2.19],[0.892,5.74],[0.9,5.98],[0.908,6.22],[0.912,7.3],[0.916,7.06],[0.92,6.94],[0.925,6.82],[0.929,6.7],[0.933,6.58],[0.937,6.46],[0.941,6.34],[0.945,7.18],[0.949,7.66],[0.953,7.0],[0.957,6.82],[0.88,5.38],[0.884,5.14],[0.888,5.02],[0.892,4.9],[0.896,4.77],[0.9,4.65],[0.904,4.53],[0.908,4.41],[0.912,4.29],[0.916,4.17],[0.92,4.05],[0.925,3.93],[0.929,3.81],[0.933,3.69],[0.937,3.57],[0.941,3.45],[0.945,3.33],[0.949,3.21],[0.953,3.09],[0.9,2.85],[0.904,2.61],[0.908,2.49],[0.912,2.37],[0.916,2.67],[0.925,2.85],[0.933,2.97],[0.941,2.85],[0.949,2.97],[0.957,3.21],[0.925,5.74],[0.933,5.62],[0.941,5.5],[0.949,5.38],[0.957,5.26],[0.966,5.14],[0.97,5.02],[0.974,4.9],[0.957,6.34],[0.961,6.1],[0.966,5.86],[0.97,5.62],[0.974,6.94],[0.966,6.7],[0.957,4.53],[0.966,4.29],[0.974,4.05],[0.97,3.81],[0.961,3.57],[0.82,4.4],[0.835,4.6],[0.845,4.2],[0.855,3.9],[0.865,4.0],[0.87,4.8],[0.875,5.2],[0.885,3.7],[0.89,3.3],[0.895,5.5],[0.9,3.5],[0.905,5.1],[0.91,3.0],[0.915,4.9],[0.92,5.3],[0.925,4.4],[0.93,5.0],[0.935,4.2],[0.94,4.8],[0.945,5.9],[0.95,4.6],[0.955,3.8],[0.96,4.9],[0.965,4.5],[0.97,6.3],[0.975,4.3],[0.98,5.4],[0.98,3.9],[0.985,4.7],[0.985,6.0]];
const tidSsimDense = [[0.603,2.32],[0.611,3.27],[0.618,2.71],[0.624,3.62],[0.631,2.16],[0.637,3.05],[0.643,2.53],[0.649,3.86],[0.655,2.88],[0.66,2.24],[0.666,3.41],[0.671,2.67],[0.677,4.1],[0.682,3.17],[0.688,2.41],[0.693,3.74],[0.698,2.92],[0.704,4.36],[0.709,2.58],[0.714,3.49],[0.72,2.27],[0.725,3.92],[0.73,3.08],[0.735,2.45],[0.741,4.22],[0.746,3.63],[0.751,2.78],[0.757,4.48],[0.762,3.24],[0.767,2.56],[0.772,3.97],[0.777,3.02],[0.616,3.9],[0.652,4.2],[0.687,1.98],[0.72,1.75],[0.749,2.25],[0.764,4.62],[0.733,3.55],[0.699,3.3],
[0.781,4.21],[0.783,2.63],[0.785,3.52],[0.787,5.08],[0.789,2.94],[0.791,4.57],[0.793,3.27],[0.795,2.41],[0.797,3.88],[0.799,5.36],[0.801,4.02],[0.803,2.72],[0.805,3.61],[0.807,4.84],[0.809,3.13],[0.811,2.36],[0.813,4.36],[0.815,5.51],[0.817,3.45],[0.819,2.87],[0.821,4.68],[0.823,3.79],[0.825,2.52],[0.827,5.24],[0.829,4.12],[0.831,3.04],[0.833,3.93],[0.835,5.62],[0.837,2.68],[0.839,4.45],[0.841,3.36],[0.843,5.03],[0.845,2.41],[0.847,3.71],[0.849,4.91],[0.786,3.9],[0.798,4.76],[0.808,2.3],[0.818,5.15],[0.828,3.4],[0.838,4.02],[0.848,2.94],[0.794,3.0],[0.814,3.92],[0.832,4.62],
[0.851,3.58],[0.853,5.72],[0.855,2.83],[0.857,4.34],[0.859,6.05],[0.861,3.21],[0.863,4.93],[0.865,2.46],[0.867,3.87],[0.869,5.48],[0.871,4.16],[0.873,2.97],[0.875,6.28],[0.877,3.53],[0.879,4.71],[0.881,2.62],[0.883,5.86],[0.885,4.04],[0.887,3.19],[0.889,6.47],[0.891,4.58],[0.893,2.78],[0.895,5.33],[0.897,3.72],[0.899,4.86],[0.901,2.54],[0.903,6.12],[0.905,3.94],[0.907,5.58],[0.909,3.06],[0.911,4.42],[0.913,6.56],[0.915,2.87],[0.917,5.14],[0.919,3.66],[0.856,5.1],[0.864,3.98],[0.872,5.87],[0.88,3.22],[0.888,5.06],[0.896,4.32],[0.904,4.72],[0.912,3.48],[0.918,4.94],[0.868,2.6],[0.884,2.4],[0.9,3.38],[0.908,6.3],[0.876,4.45],[0.892,3.95],
[0.921,4.27],[0.923,6.18],[0.925,3.12],[0.927,5.44],[0.929,2.68],[0.931,4.83],[0.933,6.63],[0.935,3.55],[0.937,5.21],[0.939,4.04],[0.941,2.87],[0.943,6.06],[0.945,4.59],[0.947,3.31],[0.949,5.78],[0.951,4.18],[0.953,2.54],[0.955,6.42],[0.957,3.78],[0.959,5.02],[0.961,4.43],[0.963,3.06],[0.965,6.71],[0.967,5.37],[0.969,3.63],[0.971,4.96],[0.973,6.24],[0.975,3.29],[0.977,5.61],[0.979,4.12],[0.981,2.95],[0.983,6.02],[0.985,4.68],[0.924,5.06],[0.932,3.94],[0.94,5.52],[0.948,2.72],[0.956,4.86],[0.964,5.88],[0.972,4.31],[0.98,5.25],[0.984,3.72],[0.936,6.84],[0.952,6.95],[0.968,6.88],[0.976,7.02],[0.944,3.62],[0.96,3.46],[0.928,4.65],[0.966,2.76],[0.978,2.58],[0.96,5.58]];
const tidSsimFit = [[0.32,1.14],[0.38,1.53],[0.43,1.82],[0.466,2.0],[0.51,2.3],[0.548,2.43],[0.59,2.7],[0.63,2.85],[0.67,3.05],[0.711,3.23],[0.75,3.45],[0.793,3.69],[0.83,3.95],[0.875,4.29],[0.916,4.71],[0.957,5.32],[0.985,5.6]];

// ---------------- layout ----------------
const FONT = '"Liberation Sans", Arial, sans-serif';
const panels = [
  {L:46, T:10, R:333, B:229, pts:micNsct, fit:micNsctFit, xMin:0.86, xMax:1, xt:xTicksA, xl:xLabelsA, yMin:0.5, yMax:5, yt:yTicksMict, yl:yLabelsMict, xTitle:xTitleNsct, yPad:12, xPad:4, lg:[51,14,179], cap:[197,265]},
  {L:405, T:9, R:698, B:228, pts:micSsim, fit:micSsimFit, xMin:0.7, xMax:1, xt:xTicksB, xl:xLabelsB, yMin:0.5, yMax:5, yt:yTicksMict, yl:yLabelsMict, xTitle:xTitleSsim, yPad:11, xPad:4, lg:[409,14,175], cap:[543,265]},
  {L:54, T:280, R:338, B:500, pts:liveNsct.concat(liveNsctDense), fit:liveNsctFit, xMin:0, xMax:1.4, xt:xTicksC, xl:xLabelsC, yMin:-20, yMax:120, yt:yTicksLive, yl:yLabelsLive, xTitle:xTitleNsct, yPad:9, xPad:3, lg:[59,466,177], cap:[186,538]},
  {L:406, T:279, R:687, B:498, pts:liveSsim.concat(liveSsimDense), fit:liveSsimFit, xMin:0, xMax:1, xt:xTicksD, xl:xLabelsD, yMin:-20, yMax:120, yt:yTicksLive, yl:yLabelsLive, xTitle:xTitleSsim, yPad:9, xPad:3, lg:[411,465,176], cap:[534,538]},
  {L:57, T:551, R:342, B:773, pts:ivcNsct, fit:ivcNsctFit, xMin:0.601, xMax:1, xt:xTicksE, xl:xLabelsE, yMin:1, yMax:5, yt:yTicksIvc, yl:yLabelsIvc, xTitle:xTitleNsct, yPad:10, xPad:4, lg:[62,556,177], cap:[185,809]},
  {L:407, T:551, R:691, B:771, pts:ivcSsim, fit:ivcSsimFit, xMin:0.5, xMax:1, xt:xTicksF, xl:xLabelsF, yMin:1, yMax:5, yt:yTicksIvc, yl:yLabelsIvc, xTitle:xTitleSsim, yPad:9, xPad:3, lg:[411,554,177], cap:[533,809]},
  {L:63, T:824, R:343, B:1042, pts:tidNsct.concat(tidNsctDense), fit:tidNsctFit, xMin:0.2, xMax:1, xt:xTicksG, xl:xLabelsG, yMin:0, yMax:8, yt:yTicksTid, yl:yLabelsTid, xTitle:xTitleNsct, yPad:18, xPad:3, lg:[67,829,172], cap:[188,1087]},
  {L:408, T:824, R:692, B:1046, pts:tidSsim.concat(tidSsimDense), fit:tidSsimFit, xMin:0.304, xMax:1, xt:xTicksH, xl:xLabelsH, yMin:0, yMax:8, yt:yTicksTid, yl:yLabelsTid, xTitle:xTitleSsim, yPad:16, xPad:4, lg:[412,828,178], cap:[536,1085]}
];
const WY = 44, PT = 8, PR = 10, HX = 30;

const framePlugin = {
  id: 'frame',
  afterDatasetsDraw(chart) {
    const {ctx, chartArea: a, scales} = chart;
    const x = scales.x, y = scales.y;
    ctx.save();
    ctx.strokeStyle = '#000';
    ctx.lineWidth = 1;
    ctx.strokeRect(a.left + 0.5, a.top + 0.5, a.right - a.left - 1, a.bottom - a.top - 1);
    ctx.beginPath();
    x.ticks.forEach(t => {
      const px = Math.round(x.getPixelForValue(t.value)) + 0.5;
      ctx.moveTo(px, a.bottom); ctx.lineTo(px, a.bottom - 3);
      ctx.moveTo(px, a.top); ctx.lineTo(px, a.top + 3);
    });
    y.ticks.forEach(t => {
      const py = Math.round(y.getPixelForValue(t.value)) + 0.5;
      ctx.moveTo(a.left, py); ctx.lineTo(a.left + 3, py);
      ctx.moveTo(a.right, py); ctx.lineTo(a.right - 3, py);
    });
    ctx.stroke();
    ctx.restore();
  }
};

panels.forEach((p, i) => {
  const cv = document.createElement('canvas');
  const w = p.R - p.L + WY + PR, h = p.B - p.T + PT + HX;
  cv.width = w; cv.height = h;
  cv.style.left = (p.L - WY) + 'px';
  cv.style.top = (p.T - PT) + 'px';
  cv.style.width = w + 'px'; cv.style.height = h + 'px';
  document.body.appendChild(cv);

  new Chart(cv, {
    type: 'scatter',
    data: {
      datasets: [
        {data: p.fit, showLine: true, borderColor: '#000', borderWidth: 1.6, pointRadius: 0, pointHoverRadius: 0, fill: false, tension: 0},
        {data: p.pts, showLine: false, pointStyle: 'cross', pointRadius: 3.5, pointHoverRadius: 3.5, borderColor: '#0000ff', backgroundColor: '#0000ff', pointBorderWidth: 1.25, borderWidth: 1.25}
      ]
    },
    options: {
      responsive: false, animation: false, devicePixelRatio: 1,
      events: [],
      layout: {padding: {left: 0, top: PT, right: PR, bottom: 0}},
      plugins: {legend: {display: false}, tooltip: {enabled: false}},
      scales: {
        x: {
          type: 'linear', min: p.xMin, max: p.xMax, bounds: 'data',
          grid: {display: false, drawTicks: false}, border: {display: false},
          afterBuildTicks: s => { s.ticks = p.xt.map(v => ({value: v})); },
          afterFit: s => { s.height = HX; s.paddingLeft = 0; s.paddingRight = 0; },
          ticks: {autoSkip: false, maxRotation: 0, padding: 2, color: '#222', font: {family: FONT, size: 10}, callback: (v, k) => p.xl[k]},
          title: {display: true, text: p.xTitle, color: '#222', font: {family: FONT, size: 9.5}, padding: {top: 0, bottom: p.xPad}}
        },
        y: {
          type: 'linear', min: p.yMin, max: p.yMax, bounds: 'data',
          grid: {display: false, drawTicks: false}, border: {display: false},
          afterBuildTicks: s => { s.ticks = p.yt.map(v => ({value: v})); },
          afterFit: s => { s.width = WY; s.paddingTop = 0; s.paddingBottom = 0; },
          ticks: {autoSkip: false, padding: 3, color: '#222', font: {family: FONT, size: 10}, callback: (v, k) => p.yl[k]},
          title: {display: true, text: yTitle, color: '#222', font: {family: FONT, size: 9.5}, padding: {top: p.yPad, bottom: 0}}
        }
      }
    },
    plugins: [framePlugin]
  });

  const lg = document.createElement('div');
  lg.className = 'lg';
  lg.style.left = p.lg[0] + 'px'; lg.style.top = p.lg[1] + 'px';
  lg.style.width = p.lg[2] + 'px'; lg.style.height = '30px';
  lg.innerHTML =
    '<svg width="9" height="9" style="left:16px;top:5px"><path d="M0 4.5H9M4.5 0V9" stroke="#0000ff" stroke-width="1.2"/></svg>' +
    '<span style="left:37px;top:4px"></span>' +
    '<div class="ln" style="left:6px;top:22px;width:29px"></div>' +
    '<span style="left:37px;top:17px"></span>';
  const sp = lg.querySelectorAll('span');
  sp[0].textContent = legendLabels[i];
  sp[1].textContent = fitLabel;
  document.body.appendChild(lg);

  const cp = document.createElement('div');
  cp.className = 'cap';
  cp.style.left = (p.cap[0] - 110) + 'px';
  cp.style.top = (p.cap[1] - 10) + 'px';
  cp.textContent = captions[i];
  document.body.appendChild(cp);
});
</script>
</body>
</html>
